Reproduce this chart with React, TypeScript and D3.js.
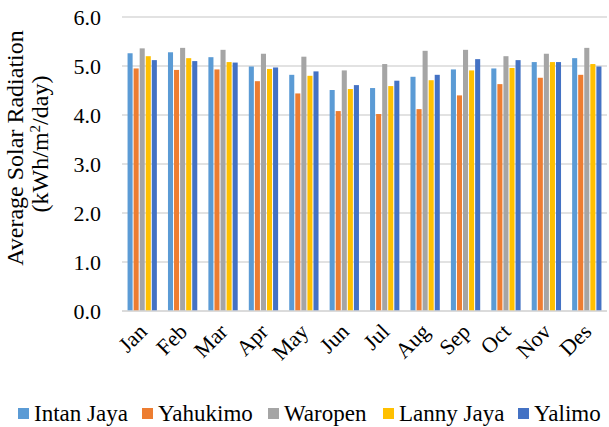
import React from "react";
import * as d3 from "d3";

const months = ["Jan", "Feb", "Mar", "Apr", "May", "Jun", "Jul", "Aug", "Sep", "Oct", "Nov", "Des"];
const seriesNames = ["Intan Jaya", "Yahukimo", "Waropen", "Lanny Jaya", "Yalimo"];
const intanJaya = [5.26, 5.28, 5.18, 4.99, 4.82, 4.51, 4.55, 4.78, 4.93, 4.95, 5.08, 5.16];
const yahukimo = [4.95, 4.92, 4.93, 4.69, 4.44, 4.08, 4.02, 4.12, 4.40, 4.63, 4.76, 4.82];
const waropen = [5.36, 5.37, 5.33, 5.25, 5.19, 4.91, 5.04, 5.31, 5.33, 5.20, 5.25, 5.37];
const lannyJaya = [5.20, 5.16, 5.08, 4.94, 4.80, 4.53, 4.59, 4.71, 4.91, 4.96, 5.08, 5.04];
const yalimo = [5.12, 5.10, 5.07, 4.97, 4.89, 4.61, 4.70, 4.82, 5.14, 5.12, 5.08, 4.99];
const yTicks = [0, 1, 2, 3, 4, 5, 6];
const colors = ["#5B9BD5", "#ED7D31", "#A5A5A5", "#FFC000", "#4472C4"];

const allSeries = [intanJaya, yahukimo, waropen, lannyJaya, yalimo];

export default function App() {
  const W = 609, H = 427;
  const left = 122, right = 607, top = 17, bottom = 311;
  const fontStyle = { fontFamily: '"Liberation Serif", "Times New Roman", serif' };
  const x = d3.scaleBand<string>().domain(months).range([left, right]).paddingInner(0.25).paddingOuter(0.125);
  const xi = d3.scaleBand<string>().domain(seriesNames).range([0, x.bandwidth()]);
  const y = d3.scaleLinear().domain([0, 6]).range([bottom, top]);

  const legendX = [18, 142, 268, 383, 518];

  return (
    <svg width={W} height={H} style={{ position: "absolute", left: 0, top: 0, background: "#fff" }}>
      {yTicks.map((t) => (
        <g key={t}>
          <line x1={left} x2={right} y1={y(t)} y2={y(t)} stroke="#d9d9d9" strokeWidth={1.3} />
          <text x={101} y={y(t) + 8} textAnchor="end" style={fontStyle} fontSize={22} fill="#000">
            {t.toFixed(1)}
          </text>
        </g>
      ))}
      {months.map((m, i) => (
        <g key={m}>
          {allSeries.map((s, j) => (
            <rect
              key={j}
              x={(x(m) as number) + (xi(seriesNames[j]) as number) + 0.5}
              y={y(s[i])}
              width={xi.bandwidth() - 1}
              height={bottom - y(s[i])}
              fill={colors[j]}
            />
          ))}
          <text
            transform={`translate(${(x(m) as number) + x.bandwidth() / 2 + 6},${bottom + 22}) rotate(-45)`}
            textAnchor="end"
            style={fontStyle}
            fontSize={22}
            fill="#000"
          >
            {m}
          </text>
        </g>
      ))}
      <line x1={left} x2={right} y1={bottom} y2={bottom} stroke="#d9d9d9" strokeWidth={1.3} />
      <text transform="translate(23,148) rotate(-90)" textAnchor="middle" style={fontStyle} fontSize={24} fill="#000">
        Average Solar Radiation
      </text>
      <text transform="translate(48,144) rotate(-90)" textAnchor="middle" style={fontStyle} fontSize={24} fill="#000">
        (kWh/m<tspan dy={-8} fontSize={15}>2</tspan><tspan dy={8}>/day)</tspan>
      </text>
      {seriesNames.map((name, j) => (
        <g key={name}>
          <rect x={legendX[j]} y={408} width={11} height={11} fill={colors[j]} />
          <text x={legendX[j] + 16} y={421} style={fontStyle} fontSize={23} fill="#000">
            {name}
          </text>
        </g>
      ))}
    </svg>
  );
}
